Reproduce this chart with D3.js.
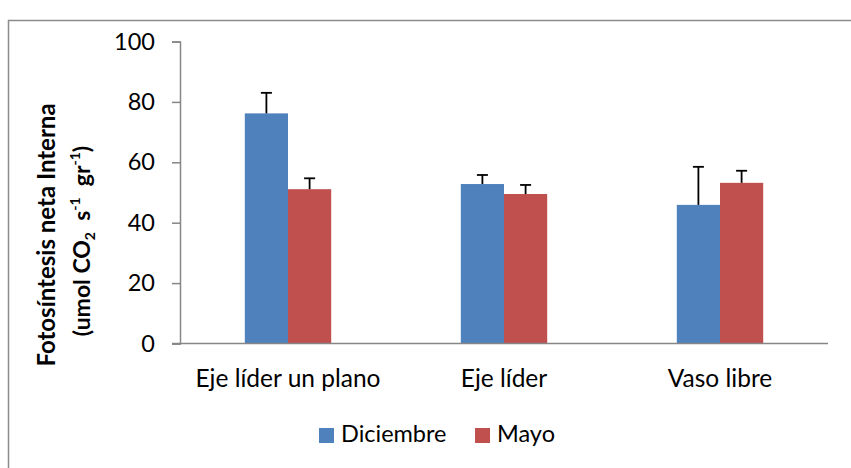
<!DOCTYPE html>
<html><head><meta charset="utf-8">
<script src="https://cdn.jsdelivr.net/npm/d3@7"></script>
<style>
body{margin:0;background:#fff;}
svg{display:block;font-family:Lato,"Noto Sans",sans-serif;}
</style></head>
<body>
<svg id="chart" width="851" height="468"></svg>
<script>
const categories = ["Eje líder un plano", "Eje líder", "Vaso libre"];
const seriesNames = ["Diciembre", "Mayo"];
const diciembre = [76.2, 52.8, 45.9];
const mayo = [51.1, 49.5, 53.2];
const diciembreErr = [6.8, 3.0, 12.6];
const mayoErr = [3.6, 3.0, 4.0];
const yTicks = [0, 20, 40, 60, 80, 100];
const colors = ["#4F81BD", "#C0504D"];

const svg = d3.select("#chart");
const plot = {left: 180, right: 828, top: 41.5, bottom: 343.5};

// frame
svg.append("rect").attr("x", 8.5).attr("y", 20.5).attr("width", 860).attr("height", 470)
  .attr("fill", "none").attr("stroke", "#8c8c8c").attr("stroke-width", 1.5);

const x0 = d3.scaleBand().domain(categories).range([plot.left, plot.right]).padding(0);
const x1 = d3.scaleBand().domain(seriesNames).range([0, x0.bandwidth() * 0.4]).padding(0);
const y = d3.scaleLinear().domain([0, 100]).range([plot.bottom, plot.top]);

const offset = (x0.bandwidth() - x0.bandwidth() * 0.4) / 2;
const data = categories.map((c, i) => ({
  cat: c,
  vals: [
    {s: seriesNames[0], v: diciembre[i], e: diciembreErr[i], col: colors[0]},
    {s: seriesNames[1], v: mayo[i], e: mayoErr[i], col: colors[1]}
  ]
}));

const g = svg.append("g");
const groups = g.selectAll("g.cat").data(data).join("g")
  .attr("transform", d => `translate(${x0(d.cat) + offset},0)`);

groups.selectAll("rect").data(d => d.vals).join("rect")
  .attr("x", d => x1(d.s))
  .attr("y", d => y(d.v))
  .attr("width", x1.bandwidth())
  .attr("height", d => y(0) - y(d.v))
  .attr("fill", d => d.col);

// error bars (plus only)
groups.selectAll("line.err").data(d => d.vals).join("line").attr("class", "err")
  .attr("x1", d => x1(d.s) + x1.bandwidth() / 2)
  .attr("x2", d => x1(d.s) + x1.bandwidth() / 2)
  .attr("y1", d => y(d.v))
  .attr("y2", d => y(d.v + d.e))
  .attr("stroke", "#000").attr("stroke-width", 1.8);
groups.selectAll("line.cap").data(d => d.vals).join("line").attr("class", "cap")
  .attr("x1", d => x1(d.s) + x1.bandwidth() / 2 - 5.5)
  .attr("x2", d => x1(d.s) + x1.bandwidth() / 2 + 5.5)
  .attr("y1", d => y(d.v + d.e))
  .attr("y2", d => y(d.v + d.e))
  .attr("stroke", "#000").attr("stroke-width", 1.8);

// y axis
const yAxis = d3.axisLeft(y).tickValues(yTicks).tickSize(8).tickPadding(17).tickFormat(d3.format("d"));
const ya = svg.append("g").attr("transform", `translate(${plot.left},0)`).call(yAxis);
ya.select(".domain").attr("stroke", "#868686").attr("stroke-width", 1.5);
ya.selectAll(".tick line").attr("stroke", "#868686").attr("stroke-width", 1.5);
ya.selectAll(".tick text").attr("font-size", 23.5).attr("fill", "#000").attr("font-family", "Lato");

// x axis
const xAxis = d3.axisBottom(x0).tickSize(0).tickPadding(0);
const xa = svg.append("g").attr("transform", `translate(0,${plot.bottom})`).call(xAxis);
xa.select(".domain").attr("d", `M${plot.left - 8},0H${plot.right}`).attr("stroke", "#868686").attr("stroke-width", 1.5);
xa.selectAll(".tick text").attr("font-size", 24.5).attr("fill", "#000").attr("font-family", "Lato")
  .attr("y", 43.5).attr("dy", null);

// y label
const yl = svg.append("text").attr("transform", "translate(55,235) rotate(-90)")
  .attr("text-anchor", "middle").attr("font-weight", "bold").attr("font-size", 24).attr("fill", "#000");
yl.text("Fotosíntesis neta Interna");
const yl2 = svg.append("text").attr("transform", "translate(90,241) rotate(-90)")
  .attr("text-anchor", "middle").attr("font-weight", "bold").attr("font-size", 23).attr("fill", "#000")
  .attr("xml:space", "preserve");
yl2.append("tspan").text("(umol CO");
yl2.append("tspan").text("2").attr("font-size", 14).attr("dy", 5);
yl2.append("tspan").text("  s").attr("dy", -5);
yl2.append("tspan").text("-1").attr("font-size", 14).attr("dy", -10);
yl2.append("tspan").text("  gr").attr("dy", 10);
yl2.append("tspan").text("-1").attr("font-size", 14).attr("dy", -10);
yl2.append("tspan").text(")").attr("dy", 10);

// legend
const legend = svg.append("g");
const legItems = [{n: seriesNames[0], c: colors[0], x: 319}, {n: seriesNames[1], c: colors[1], x: 475}];
const li = legend.selectAll("g").data(legItems).join("g").attr("transform", d => `translate(${d.x},0)`);
li.append("rect").attr("x", 0).attr("y", 428).attr("width", 15).attr("height", 15).attr("fill", d => d.c);
li.append("text").attr("x", 22).attr("y", 442).attr("font-size", 23.5).attr("fill", "#000").text(d => d.n);
</script>
</body></html>
